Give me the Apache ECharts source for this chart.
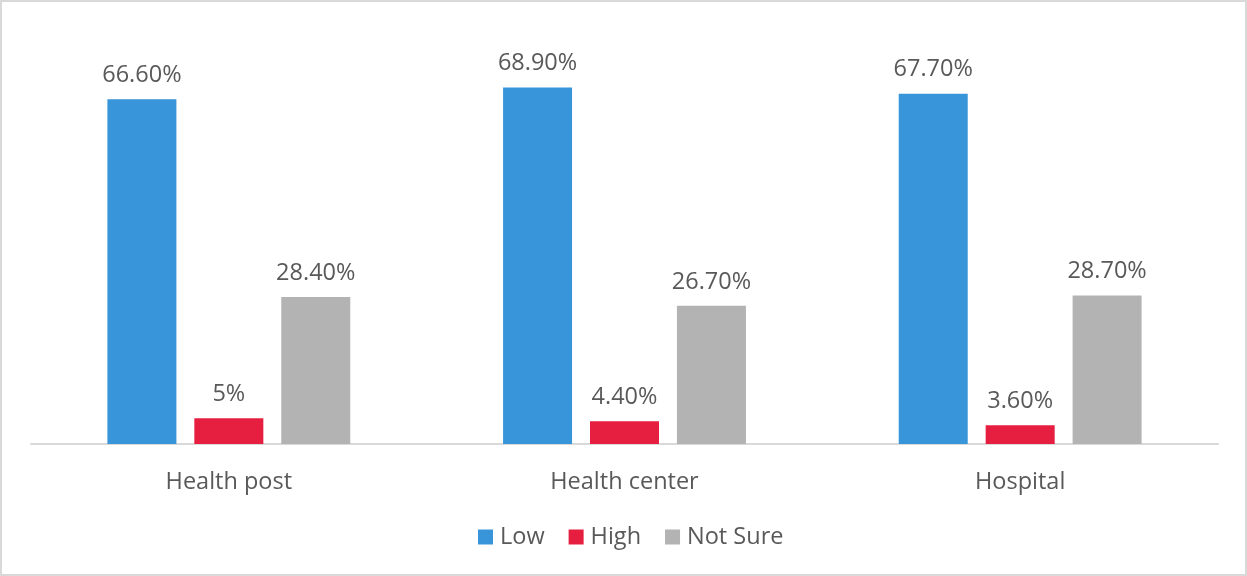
<!DOCTYPE html>
<html>
<head>
<meta charset="utf-8">
<script src="https://cdn.jsdelivr.net/npm/echarts@6/dist/echarts.min.js"></script>
<style>
html,body{margin:0;padding:0;background:#fff;}
#chart{width:1247px;height:576px;}
</style>
</head>
<body>
<div id="chart"></div>
<script>
const categories = ['Health post', 'Health center', 'Hospital'];
const lowValues = [66.6, 68.9, 67.7];
const highValues = [5, 4.4, 3.6];
const notSureValues = [28.4, 26.7, 28.7];
const seriesNames = ['Low', 'High', 'Not Sure'];
const colors = ['#3895D9', '#E61E3F', '#B3B3B3'];

const fmt = p => (Number.isInteger(p.value) ? p.value : p.value.toFixed(2)) + '%';
const font = '"Open Sans", "Noto Sans", sans-serif';
const fs = 23.5;

function mk(name, data, color) {
  return {
    name: name,
    type: 'bar',
    data: data,
    barWidth: 69,
    barGap: '26%',
    itemStyle: { color: color },
    label: {
      show: true,
      position: 'top',
      distance: 12,
      formatter: fmt,
      color: '#595959',
      fontSize: fs,
      fontFamily: font
    }
  };
}

const chart = echarts.init(document.getElementById('chart'), null, { renderer: 'canvas' });
chart.setOption({
  animation: false,
  backgroundColor: '#fff',
  graphic: [{
    type: 'rect',
    shape: { x: 1, y: 1, width: 1245, height: 574 },
    style: { fill: 'none', stroke: '#d9d9d9', lineWidth: 2 },
    silent: true
  }],
  grid: { left: 31, right: 29, top: 30, bottom: 132, containLabel: false },
  legend: {
    data: seriesNames,
    bottom: 27,
    left: 478,
    padding: 0,
    itemWidth: 15,
    itemHeight: 15,
    itemGap: 24,
    icon: 'rect',
    textStyle: { color: '#595959', fontSize: fs, fontFamily: font, padding: [0, 0, 0, 2] }
  },
  xAxis: {
    type: 'category',
    data: categories,
    axisLine: { lineStyle: { color: '#d9d9d9', width: 2 } },
    axisTick: { show: false },
    axisLabel: { color: '#595959', fontSize: fs, fontFamily: font, margin: 26 }
  },
  yAxis: {
    type: 'value',
    min: 0,
    max: 80,
    show: false,
    splitLine: { show: false }
  },
  series: [
    mk(seriesNames[0], lowValues, colors[0]),
    mk(seriesNames[1], highValues, colors[1]),
    mk(seriesNames[2], notSureValues, colors[2])
  ]
});
</script>
</body>
</html>
